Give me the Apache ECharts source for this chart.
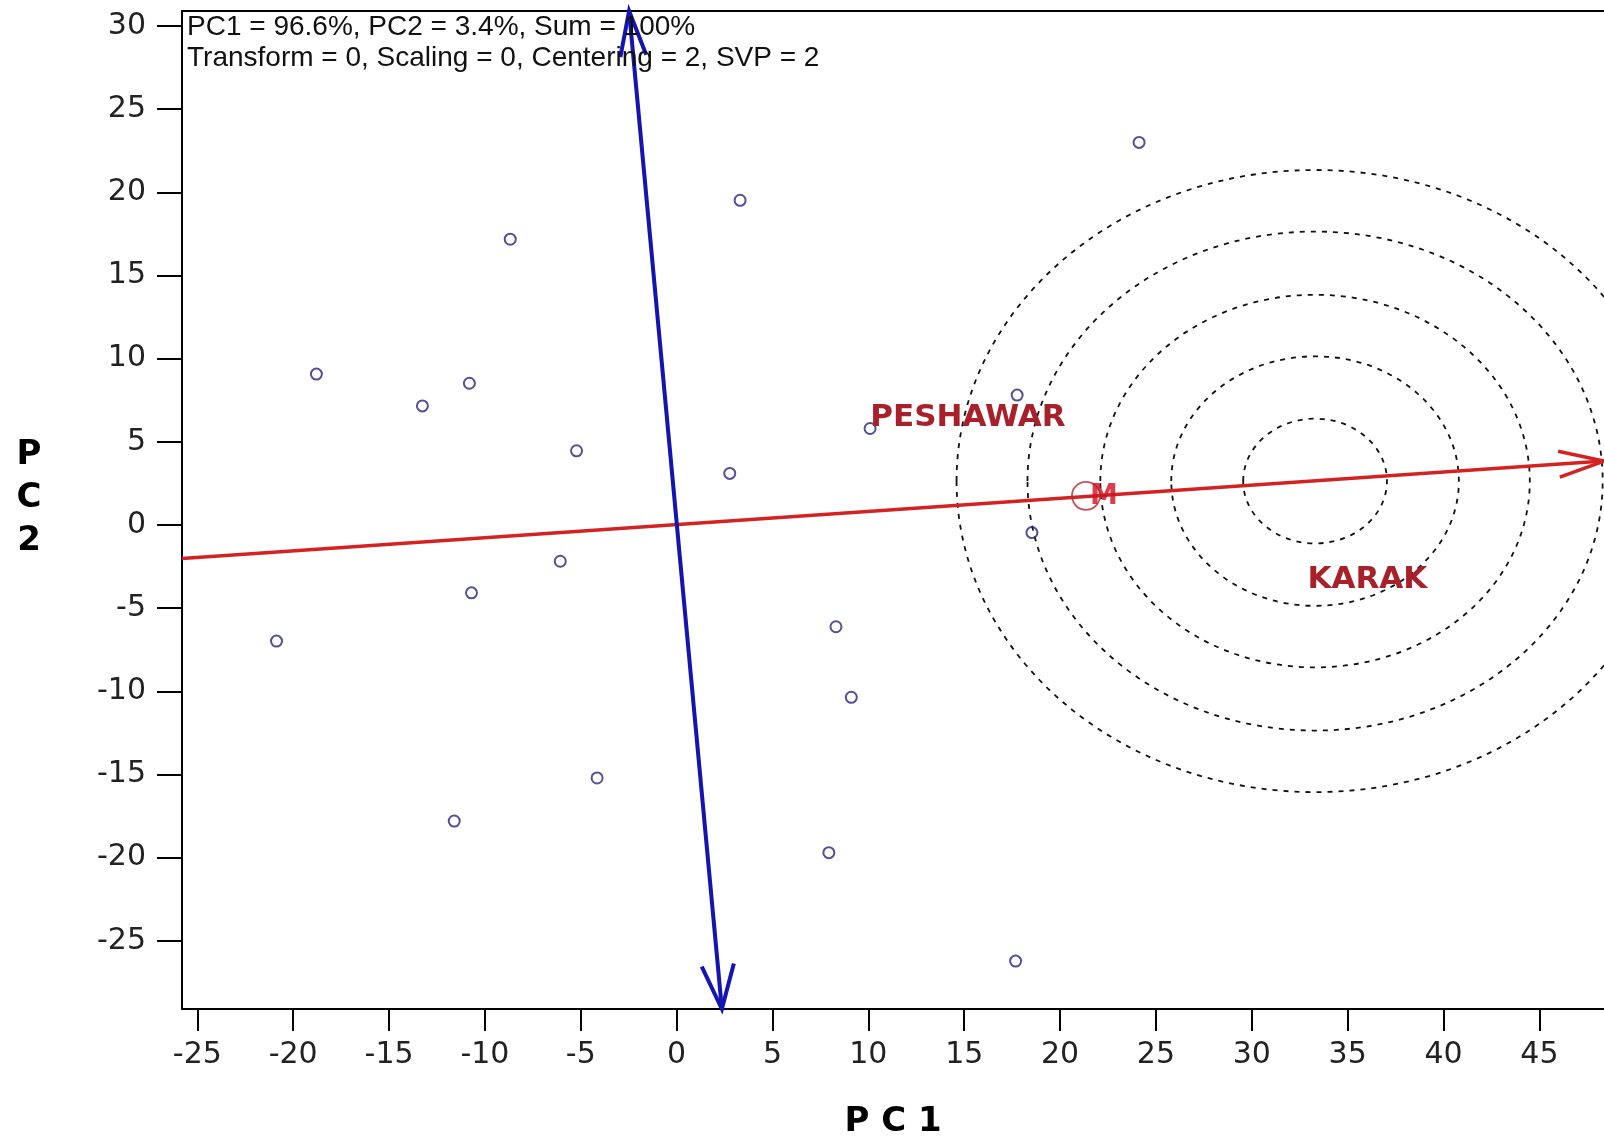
<!DOCTYPE html>
<html>
<head>
<meta charset="utf-8">
<title>PCA biplot</title>
<script src="https://cdn.jsdelivr.net/npm/echarts@6/dist/echarts.min.js"></script>
<style>
  html, body { margin: 0; padding: 0; background: #fff; }
  #main { width: 1604px; height: 1139px; }
</style>
</head>
<body>
<div id="main"></div>
<script>
// sample scores (PC1, PC2)
var pc1 = [24.12, 3.31, -8.68, -18.79, -13.26, -10.81, -5.22, 2.77, 10.09, 17.76,
           18.53, -6.07, -10.70, -20.87, 8.31, 9.11, -4.15, -11.60, 7.94, 17.68];
var pc2 = [23.0, 19.52, 17.18, 9.07, 7.16, 8.52, 4.46, 3.10, 5.80, 7.81,
           -0.46, -2.18, -4.08, -6.98, -6.12, -10.36, -15.21, -17.80, -19.70, -26.22];

var xTicks = [-25, -20, -15, -10, -5, 0, 5, 10, 15, 20, 25, 30, 35, 40, 45];
var yTicks = [-25, -20, -15, -10, -5, 0, 5, 10, 15, 20, 25, 30];

// environment vectors: from (x0, y0) to (x1, y1), last = arrow on both ends
var redVector = [-25.8, -2.01, 48.37, 3.84, 0];
var blueVector = [2.36, -29.1, -2.48, 30.9, 1];

// concentric rings around the KARAK direction
var ringCenter = [33.3, 2.64];
var ringRadii = [3.75, 7.5, 11.2, 15.0, 18.7];

var meanPoint = [21.35, 1.75];
var siteNames = ['PESHAWAR', 'KARAK'];
var siteX = [10.1, 32.9];
var siteY = [6.42, -3.3];

var infoLines = [
  'PC1 = 96.6%, PC2 = 3.4%, Sum = 100%',
  'Transform = 0, Scaling = 0, Centering = 2, SVP = 2'
];

var chart = echarts.init(document.getElementById('main'));

var points = pc1.map(function (x, i) { return [x, pc2[i]]; });
var rings = ringRadii.map(function (r) { return [ringCenter[0], ringCenter[1], r]; });
var sites = siteNames.map(function (n, i) { return [siteX[i], siteY[i], n]; });

function arrowHead(tip, from, len, ang) {
  var dx = from[0] - tip[0], dy = from[1] - tip[1];
  var d = Math.sqrt(dx * dx + dy * dy);
  var ux = dx / d, uy = dy / d;
  var c = Math.cos(ang), s = Math.sin(ang);
  var a1 = [tip[0] + len * (ux * c - uy * s), tip[1] + len * (ux * s + uy * c)];
  var a2 = [tip[0] + len * (ux * c + uy * s), tip[1] + len * (-ux * s + uy * c)];
  return [a1, tip, a2];
}

function renderVector(color, width) {
  return function (params, api) {
    var p0 = api.coord([api.value(0), api.value(1)]);
    var p1 = api.coord([api.value(2), api.value(3)]);
    var st = { stroke: color, lineWidth: width, fill: 'none', lineJoin: 'miter' };
    var children = [
      { type: 'line', shape: { x1: p0[0], y1: p0[1], x2: p1[0], y2: p1[1] }, style: st },
      { type: 'polyline', shape: { points: arrowHead(p1, p0, 47, 0.28) }, style: st }
    ];
    if (api.value(4) === 1) {
      children.push({ type: 'polyline', shape: { points: arrowHead(p0, p1, 47, 0.35) }, style: st });
    }
    return { type: 'group', children: children };
  };
}

var xRange = { min: -25.8, max: 48.37 };

var option = {
  animation: false,
  backgroundColor: '#fff',
  grid: { left: 182, top: 11, right: 0, bottom: 130, outerBoundsMode: 'none' },
  graphic: [{
    type: 'text', x: 187, y: 12,
    style: {
      text: infoLines.join('\n'),
      font: '28px "Liberation Sans", Arial, sans-serif',
      lineHeight: 31, fill: '#111'
    },
    z: 20
  }, {
    type: 'text', x: 29, y: 498,
    style: {
      text: 'P\nC\n2',
      font: 'bold 34px "DejaVu Sans", sans-serif',
      lineHeight: 43, fill: '#000', align: 'center', verticalAlign: 'middle'
    }
  }],
  xAxis: [{
    type: 'value', min: xRange.min, max: xRange.max,
    name: 'P C 1', nameLocation: 'middle', nameGap: 96,
    nameTextStyle: { fontSize: 34, fontWeight: 'bold', fontFamily: 'DejaVu Sans', color: '#000' },
    splitLine: { show: false },
    axisLine: { onZero: false, lineStyle: { color: '#000', width: 2 } },
    axisTick: { show: true, length: 22, customValues: xTicks, lineStyle: { color: '#000', width: 2 } },
    axisLabel: { customValues: xTicks, margin: 31, fontSize: 30, fontFamily: 'DejaVu Sans', color: '#222' }
  }, {
    // top frame line
    type: 'value', position: 'top', min: xRange.min, max: xRange.max,
    splitLine: { show: false },
    axisLine: { onZero: false, lineStyle: { color: '#000', width: 2 } },
    axisTick: { show: false },
    axisLabel: { show: false }
  }],
  yAxis: {
    type: 'value', min: -29.1, max: 30.9,
    splitLine: { show: false },
    axisLine: { onZero: false, lineStyle: { color: '#000', width: 2 } },
    axisTick: { show: true, length: 25, customValues: yTicks, lineStyle: { color: '#000', width: 2 } },
    axisLabel: { customValues: yTicks, margin: 36, fontSize: 30, fontFamily: 'DejaVu Sans', color: '#222' }
  },
  series: [
    {
      name: 'rings', type: 'custom', data: rings, z: 1,
      encode: { x: 0, y: 1 },
      renderItem: function (params, api) {
        var c = api.coord([api.value(0), api.value(1)]);
        var s = api.size([api.value(2), api.value(2)]);
        return {
          type: 'ellipse',
          shape: { cx: c[0], cy: c[1], rx: s[0], ry: s[1] },
          style: { fill: 'none', stroke: '#111', lineWidth: 1.8, lineDash: [5, 6] }
        };
      }
    },
    {
      name: 'scores', type: 'scatter', data: points, z: 3,
      symbol: 'circle', symbolSize: 11,
      itemStyle: { color: 'rgba(0,0,0,0)', borderColor: '#25257e', borderWidth: 2 }
    },
    {
      name: 'PC1 vector', type: 'custom', data: [redVector], z: 4,
      encode: { x: [0, 2], y: [1, 3] },
      renderItem: renderVector('#d42222', 3.5)
    },
    {
      name: 'PC2 vector', type: 'custom', data: [blueVector], z: 4,
      encode: { x: [0, 2], y: [1, 3] },
      renderItem: renderVector('#1414b0', 4)
    },
    {
      name: 'mean', type: 'scatter', data: [meanPoint], z: 5,
      symbol: 'circle', symbolSize: 28,
      itemStyle: { color: 'rgba(0,0,0,0)', borderColor: '#b82a2a', borderWidth: 1.8 },
      label: {
        show: true, position: 'inside', offset: [18, 1], formatter: 'M',
        color: '#d01020', fontWeight: 'bold', fontSize: 28, fontFamily: 'DejaVu Sans'
      }
    },
    {
      name: 'sites', type: 'custom', data: sites, z: 6,
      encode: { x: 0, y: 1 },
      renderItem: function (params, api) {
        var p = api.coord([api.value(0), api.value(1)]);
        return {
          type: 'text', x: p[0], y: p[1],
          style: {
            text: sites[params.dataIndex][2],
            font: 'bold 31px "DejaVu Sans", sans-serif',
            fill: '#a8202a', align: 'left', verticalAlign: 'middle'
          }
        };
      }
    }
  ]
};

chart.setOption(option);
</script>
</body>
</html>
